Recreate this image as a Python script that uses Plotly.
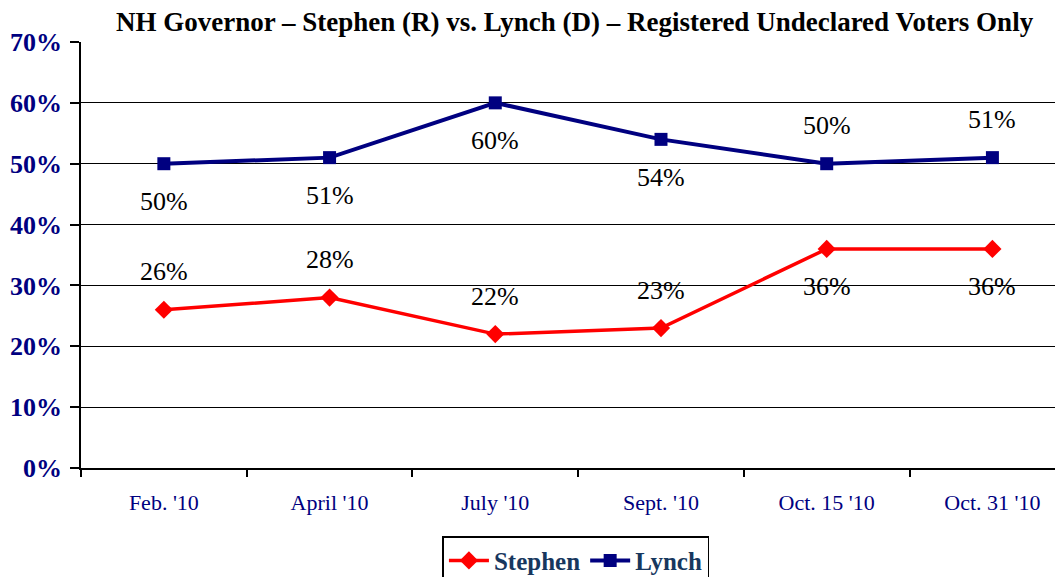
import plotly.graph_objects as go

categories = ["Feb. '10", "April '10", "July '10", "Sept. '10", "Oct. 15 '10", "Oct. 31 '10"]
stephen = [0.26, 0.28, 0.22, 0.23, 0.36, 0.36]
lynch = [0.50, 0.51, 0.60, 0.54, 0.50, 0.51]
# +1 label above the point, -1 below
stephen_label_side = [1, 1, 1, 1, -1, -1]
lynch_label_side = [-1, -1, -1, -1, 1, 1]

SERIF = "Liberation Serif, Times New Roman, serif"
NAVY = "#000080"

fig = go.Figure()
fig.add_trace(go.Scatter(
    x=categories, y=stephen, name="Stephen", mode="lines+markers",
    line=dict(color="#FF0000", width=3.5),
    marker=dict(symbol="diamond", size=14, color="#FF0000"),
))
fig.add_trace(go.Scatter(
    x=categories, y=lynch, name="Lynch", mode="lines+markers",
    line=dict(color=NAVY, width=4),
    marker=dict(symbol="square", size=13, color=NAVY),
))

for vals, sides in ((stephen, stephen_label_side), (lynch, lynch_label_side)):
    for cat, v, s in zip(categories, vals, sides):
        fig.add_annotation(
            x=cat, y=v, text=f"{round(v * 100)}%", showarrow=False,
            yshift=38 * s, font=dict(family=SERIF, size=26, color="black"),
        )

# the page body adds an 8px margin, so the figure is 8px smaller than the window
fig.update_layout(
    width=1055, height=569,
    margin=dict(l=73, r=0, t=34, b=109, autoexpand=False),
    paper_bgcolor="white", plot_bgcolor="white",
    title=dict(
        text="<b>NH Governor – Stephen (R) vs. Lynch (D) – Registered Undeclared Voters Only</b>",
        x=0.537, xanchor="center", y=0.976, yanchor="middle",
        font=dict(family=SERIF, size=27, color="black"),
    ),
    showlegend=True,
    legend=dict(
        orientation="h", x=0.504, xanchor="center", y=-0.16, yanchor="top",
        bordercolor="black", borderwidth=1.5, bgcolor="white",
        font=dict(family=SERIF, size=25, color="#17375E", weight="bold"),
        itemwidth=40, tracegroupgap=0,
    ),
)
fig.update_xaxes(
    type="category", range=[-0.5, 5.426], automargin=False,
    showgrid=False, showline=True, linecolor="black", linewidth=1.5,
    ticks="outside", tickson="boundaries", ticklen=7, tickcolor="black", tickwidth=1.5,
    ticklabelstandoff=14,
    tickfont=dict(family=SERIF, size=22, color=NAVY),
)
fig.update_yaxes(
    range=[0, 0.7], dtick=0.1, tickformat=".0%", automargin=False,
    showgrid=True, gridcolor="black", gridwidth=1.2,
    showline=True, linecolor="black", linewidth=1.5, zeroline=False,
    ticks="outside", ticklen=9, tickcolor="black", tickwidth=1.5,
    ticklabelstandoff=3,
    tickfont=dict(family=SERIF, size=26, color=NAVY, weight="bold"),
)

fig.write_html("out.html")
